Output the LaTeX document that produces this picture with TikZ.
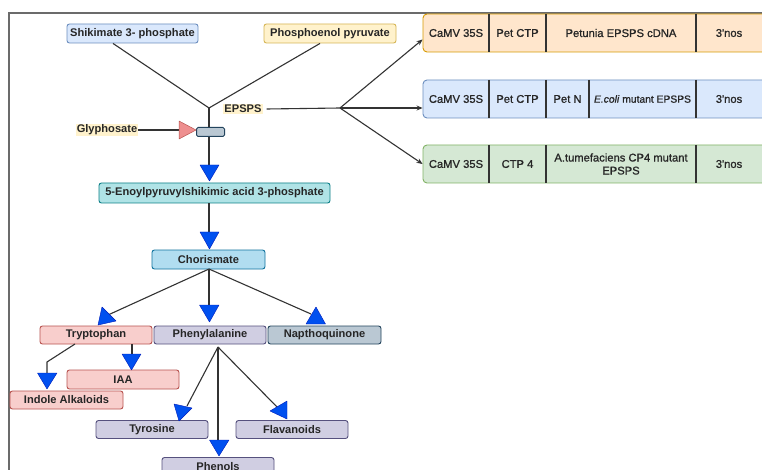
\documentclass[tikz,border=0pt]{standalone}
\usepackage{fontspec}
\setmainfont{Liberation Sans}
\newfontfamily\lfont{Liberation Sans Bold}
\newfontfamily\rfont[FakeBold=1.0]{Liberation Sans}
\usetikzlibrary{calc,arrows.meta}
\definecolor{cblue}{HTML}{DAE8FC}\definecolor{dblue}{HTML}{6C8EBF}
\definecolor{cyel}{HTML}{FFF2CC}\definecolor{dyel}{HTML}{D6B656}
\definecolor{corange}{HTML}{FFE6CC}\definecolor{dorange}{HTML}{D79B00}
\definecolor{cgreen}{HTML}{D5E8D4}\definecolor{dgreen}{HTML}{82B366}
\definecolor{cteal}{HTML}{B0E3E6}\definecolor{dteal}{HTML}{0E8088}
\definecolor{clb}{HTML}{B1DDF0}\definecolor{dlb}{HTML}{10739E}
\definecolor{cred}{HTML}{F8CECC}\definecolor{dred}{HTML}{B85450}
\definecolor{cpur}{HTML}{D0CEE2}\definecolor{dpur}{HTML}{56517E}
\definecolor{cgb}{HTML}{BAC8D3}\definecolor{dgb}{HTML}{23445D}
\definecolor{tblue}{HTML}{0050EF}\definecolor{dtblue}{HTML}{001DBC}
\definecolor{cgly}{HTML}{EE8F8F}
\definecolor{linec}{HTML}{333333}
\definecolor{framec}{HTML}{6B6B6B}
\definecolor{txt}{HTML}{262626}
\begin{document}
\begin{tikzpicture}[x=1pt,y=-1pt,
  lbox/.style={draw, rounded corners=2.5pt, line width=0.9pt, inner sep=0pt,
    minimum height=19pt, minimum width=112pt, text=txt,
    font=\lfont\fontsize{11.1}{13}\selectfont},
  lab/.style={fill=cyel, inner sep=1pt, text=txt, font=\lfont\fontsize{11.1}{13}\selectfont},
  rowbox/.style={draw, rounded corners=4pt, line width=0.9pt, minimum width=367pt,
    minimum height=38pt, inner sep=0pt},
  rtext/.style={text=txt, inner sep=0pt, align=center,
    font=\rfont\fontsize{11.2}{13}\selectfont},
  conn/.style={draw=linec, line width=1.1pt},
  div/.style={draw=linec, line width=1.1pt},
  btri/.style={fill=tblue, draw=dtblue, line width=0.4pt, line join=round},
  rarrow/.style={conn, -{Stealth[length=6pt,width=5pt]}}
]
\useasboundingbox (0,0) rectangle (762,470);
\clip (0,0) rectangle (762,470);
\fill[white] (0,0) rectangle (762,470);
% frame
\draw[framec, line width=1.6pt] (9,475) -- (9,13) -- (770,13);

% ---- right rows
\node[rowbox, fill=corange, draw=dorange] (row1) at (606.5,33) {};
\node[rowbox, fill=cblue, draw=dblue] (row2) at (606.5,99) {};
\node[rowbox, fill=cgreen, draw=dgreen] (row3) at (606.5,164) {};
\foreach \x in {489,546,696} {
  \draw[div] (\x,14) -- (\x,52);
  \draw[div] (\x,80) -- (\x,118);
  \draw[div] (\x,145) -- (\x,183);
}
\draw[div] (589,80) -- (589,118);
\node[rtext] (r1a) at (456,33) {CaMV 35S};
\node[rtext] (r1b) at (517.5,33) {Pet CTP};
\node[rtext] (r1c) at (621,33) {Petunia EPSPS cDNA};
\node[rtext] (r1d) at (729,33) {3'nos};
\node[rtext] (r2a) at (456,99) {CaMV 35S};
\node[rtext] (r2b) at (517.5,99) {Pet CTP};
\node[rtext] (r2c) at (567.5,99) {Pet N};
\node[rtext, font=\rfont\fontsize{10.3}{12}\selectfont] (r2d) at (642.5,99) {\textit{E.coli} mutant EPSPS};
\node[rtext] (r2e) at (729,99) {3'nos};
\node[rtext] (r3a) at (456,164) {CaMV 35S};
\node[rtext] (r3b) at (517.5,164) {CTP 4};
\node[rtext] (r3c) at (621,164) {A.tumefaciens CP4 mutant\\EPSPS};
\node[rtext] (r3d) at (729,164) {3'nos};

% ---- top part
\node[lbox, fill=cblue, draw=dblue, minimum width=131pt] (shik) at (132.5,33.5) {Shikimate 3- phosphate};
\node[lbox, fill=cyel, draw=dyel, minimum width=132pt] (pep) at (330,33.5) {Phosphoenol pyruvate};
\coordinate (j1) at (209,108);
\node[lab] (epsps) at (243,109) {EPSPS};
\node[lab] (gly) at (107,130) {Glyphosate};
\node[draw=dgb, fill=cgb, line width=1pt, rounded corners=1.5pt, minimum width=28pt,
  minimum height=9pt, inner sep=0pt] (enz) at (210.5,132) {};
\coordinate (gt) at (179,130);
\coordinate (j2) at (340,108);

\draw[conn] ($(shik.south)+(-19.5,0)$) -- (j1) -- ($(pep.south)+(-10,0)$);
\draw[conn] (j1) -- (j1 |- enz.north);
\draw[conn] (gly.east) -- (gt);
\fill[cgly, draw=dred, line width=0.5pt, line join=round] (gt) -- (179,121) -- (196,130) -- (179,139) -- cycle;
\draw[conn] ($(epsps.east)+(4,0)$) -- (j2);
\draw[rarrow] (j2) -- ($(row1.west)+(0,6.5)$);
\draw[rarrow] (j2) -- (row2.west |- j2);
\draw[rarrow] (j2) -- (row3.west);

% ---- pathway
\node[lbox, fill=cteal, draw=dteal, minimum width=231pt, minimum height=20pt] (epsp) at (214.5,193) {5-Enoylpyruvylshikimic acid 3-phosphate};
\node[lbox, fill=clb, draw=dlb, minimum width=113pt] (chor) at (208.5,259.5) {Chorismate};
\node[lbox, fill=cred, draw=dred, minimum height=18pt] (tryp) at (96,335) {Tryptophan};
\node[lbox, fill=cpur, draw=dpur, minimum height=18pt] (phe) at (210,335) {Phenylalanine};
\node[lbox, fill=cgb, draw=dgb, minimum width=113pt, minimum height=18pt] (nap) at (324.5,335) {Napthoquinone};
\node[lbox, fill=cred, draw=dred] (iaa) at (123,379.5) {IAA};
\node[lbox, fill=cred, draw=dred, minimum width=113pt, minimum height=18pt] (ind) at (66.5,400) {Indole Alkaloids};
\node[lbox, fill=cpur, draw=dpur, minimum height=18pt] (tyr) at (152,429.5) {Tyrosine};
\node[lbox, fill=cpur, draw=dpur, minimum height=18pt] (flav) at (292,429.5) {Flavanoids};
\node[lbox, fill=cpur, draw=dpur, minimum height=18pt] (phen) at (218,466.5) {Phenols};

% connectors
\coordinate (t0) at (209,165);
\draw[conn] (j1 |- enz.south) -- (t0);
\filldraw[btri] (200,165) -- (219,165) -- (209.5,181) -- cycle;

\coordinate (t1) at (209,232);
\draw[conn] (j1 |- epsp.south) -- (t1);
\filldraw[btri] (200,232) -- (219,232) -- (209.5,249) -- cycle;

\coordinate (c0) at (209,269);
\coordinate (t2) at (108,315);
\draw[conn] (c0) -- (t2);
\filldraw[btri] (98,325) -- (102,307) -- (116,321) -- cycle;
\coordinate (t3) at (209,305);
\draw[conn] (c0) -- (t3);
\filldraw[btri] (199.5,305) -- (219,305) -- (209.5,322) -- cycle;
\coordinate (t4) at (311,314);
\draw[conn] (c0) -- (t4);
\filldraw[btri] (306,324) -- (325.5,324) -- (316,307) -- cycle;

\coordinate (a1) at (75,344);
\coordinate (a2) at (47,362);
\coordinate (t5) at (47,373);
\draw[conn] (a1) -- (a2) -- (t5);
\filldraw[btri] (37.5,373) -- (57,373) -- (47,389) -- cycle;
\coordinate (a3) at (132,344);
\coordinate (t6) at (132,354);
\draw[conn] (a3) -- (t6);
\filldraw[btri] (122,354) -- (141,354) -- (131.5,370) -- cycle;

\coordinate (p0) at (218,347);
\coordinate (t7) at (187,406);
\draw[conn] (p0) -- (t7);
\filldraw[btri] (174,404) -- (192,408) -- (179,421) -- cycle;
\coordinate (t8) at (218,440);
\draw[conn] (p0) -- (t8);
\filldraw[btri] (209.5,440) -- (229,440) -- (219,456) -- cycle;
\coordinate (t9) at (279,409);
\draw[conn] (p0) -- (t9);
\filldraw[btri] (270,411) -- (287,401) -- (287,419) -- cycle;
\end{tikzpicture}
\end{document}
